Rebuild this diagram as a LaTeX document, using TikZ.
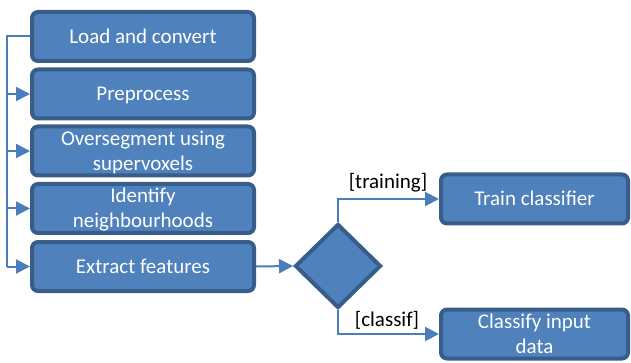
\documentclass[tikz,border=0pt]{standalone}
\usepackage{fontspec}
\setmainfont{Carlito}
\usetikzlibrary{shapes.geometric,arrows.meta}
\definecolor{boxfill}{HTML}{4F81BD}
\definecolor{boxline}{HTML}{385D8A}
\definecolor{linkblue}{HTML}{4A7EBB}
\tikzset{
  stepbox/.style={draw=boxline, fill=boxfill, line width=4pt, rounded corners=6pt,
    text=white, align=center, inner sep=0pt, minimum height=49pt,
    text height=13.5pt, text depth=0pt},
  twolines/.style={text height=38.5pt},
  leftbox/.style={stepbox, minimum width=222pt},
  rightbox/.style={stepbox, minimum width=187pt},
  decision/.style={diamond, draw=boxline, fill=boxfill, line width=4pt, inner sep=0pt,
    minimum width=86pt, minimum height=84pt},
  link/.style={draw=linkblue, line width=2pt},
  flow/.style={link, -{Triangle[length=14pt,width=14pt]}},
  guard/.style={text=black, inner sep=0pt}
}
\begin{document}
\begin{tikzpicture}[x=1pt, y=-1pt, font=\fontsize{21}{25}\selectfont]
\useasboundingbox (0,0) rectangle (631,363);
% pipeline steps
\node[leftbox] (load) at (143,36.5) {Load and convert};
\node[leftbox] (prep) at (143,94) {Preprocess};
\node[leftbox, twolines] (overseg) at (143,151) {Oversegment using\\supervoxels};
\node[leftbox, twolines] (neigh) at (143,208.5) {Identify\\neighbourhoods};
\node[leftbox] (extract) at (143,266.5) {Extract features};
% decision and outcomes
\node[decision] (decide) at (338,266) {};
\node[rightbox] (train) at (534.5,199) {Train classifier};
\node[rightbox, twolines] (classify) at (534.5,334) {Classify input\\data};
% left bus
\coordinate (bus top) at (7,36.5);
\coordinate (bus bottom) at (7,266.5);
\draw[link] (load.west) -- (bus top) -- (bus bottom);
\draw[flow] (bus top |- prep.west) -- (prep.west);
\draw[flow] (bus top |- overseg.west) -- (overseg.west);
\draw[flow] (bus top |- neigh.west) -- (neigh.west);
\draw[flow] (bus bottom) -- (extract.west);
% branches
\draw[flow] (extract.east) -- (decide.west);
\draw[flow] (decide.north) |- (train.west);
\draw[flow] (decide.south) |- (classify.west);
\node[guard] (training) at (388,183) {[training]};
\node[guard] (classif) at (387,320) {[classif]};
\end{tikzpicture}
\end{document}
